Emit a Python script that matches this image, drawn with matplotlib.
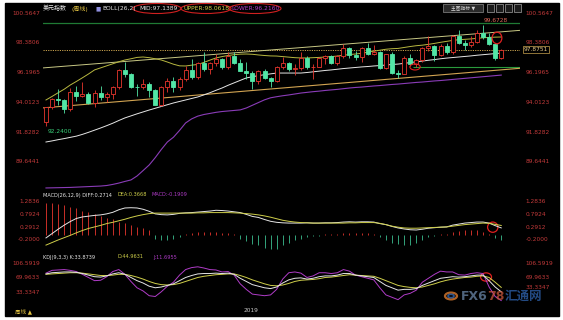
import numpy as np
import matplotlib
matplotlib.use("Agg")
import matplotlib.pyplot as plt
from matplotlib.patches import Rectangle, Ellipse, Circle

plt.rcParams['font.family'] = ['DejaVu Sans', 'Noto Sans CJK SC']

W, H = 563, 320

# weekly US dollar index candles, 2018-05 .. 2019-10
opens = [92.55, 93.64, 94.25, 94.17, 93.54, 94.79, 94.49, 94.60, 94.00, 94.68,
         94.43, 94.66, 95.13, 96.36, 96.11, 95.16, 95.13, 95.40, 94.93, 93.84,
         95.13, 95.61, 95.17, 95.72, 96.37, 95.86, 96.92, 96.47, 96.93, 97.20,
         96.58, 97.46, 96.94, 96.34, 96.18, 95.60, 96.35, 95.82, 95.58, 96.62,
         96.90, 96.50, 96.52, 97.30, 96.61, 96.63, 97.28, 97.39, 96.93, 97.40,
         97.99, 97.52, 97.33, 98.00, 97.60, 97.75, 96.54, 97.56, 96.20, 96.13,
         97.29, 96.81, 97.10, 98.02, 98.15, 97.50, 98.14, 97.69, 98.92, 98.40,
         98.26, 98.48, 99.12, 98.81, 98.30, 97.28]
highs = [93.65, 94.35, 95.03, 94.25, 95.10, 95.25, 95.53, 94.80, 94.90, 95.24,
         94.80, 95.25, 96.47, 96.98, 96.20, 95.40, 95.74, 95.50, 95.00, 95.20,
         95.80, 95.90, 95.90, 96.70, 97.20, 97.00, 97.70, 97.00, 97.54, 97.25,
         97.71, 97.70, 97.20, 96.95, 96.30, 96.40, 96.50, 95.90, 96.70, 97.37,
         97.00, 96.80, 97.71, 97.40, 96.80, 97.35, 97.50, 97.50, 97.50, 98.33,
         98.10, 97.80, 98.05, 98.37, 98.20, 97.80, 97.60, 97.70, 96.40, 97.40,
         97.60, 97.20, 98.10, 98.93, 98.20, 98.30, 98.40, 98.95, 99.37, 98.60,
         98.90, 99.35, 99.6728, 99.10, 98.40, 97.95]
lows = [92.24, 93.50, 93.80, 93.20, 93.40, 94.10, 94.40, 93.90, 93.70, 94.20,
        94.05, 94.25, 95.00, 95.90, 95.05, 94.50, 95.00, 94.40, 93.81, 93.75,
        94.80, 94.80, 94.90, 95.60, 95.70, 95.70, 96.30, 96.10, 96.70, 96.50,
        96.50, 96.80, 96.30, 95.70, 95.03, 95.40, 95.70, 95.16, 95.50, 96.50,
        96.30, 96.05, 96.40, 96.50, 95.74, 96.60, 96.80, 96.80, 96.75, 97.30,
        97.25, 97.10, 97.00, 97.50, 97.50, 96.46, 96.50, 96.10, 95.84, 96.10,
        96.70, 96.60, 96.95, 97.80, 97.05, 97.40, 97.60, 97.60, 98.30, 97.86,
        98.10, 98.40, 98.70, 98.20, 97.11, 97.20]
closes = [93.64, 94.25, 94.17, 93.54, 94.79, 94.49, 94.60, 94.00, 94.68, 94.43,
          94.66, 95.13, 96.36, 96.11, 95.16, 95.13, 95.40, 94.93, 93.84, 95.13,
          95.61, 95.17, 95.72, 96.37, 95.86, 96.92, 96.47, 96.93, 97.20, 96.58,
          97.46, 96.94, 96.34, 96.18, 95.60, 96.35, 95.82, 95.58, 96.62, 96.90,
          96.50, 96.52, 97.30, 96.61, 96.63, 97.28, 97.39, 96.93, 97.40, 97.99,
          97.52, 97.33, 98.00, 97.60, 97.75, 96.54, 97.56, 96.20, 96.13, 97.29,
          96.81, 97.10, 98.02, 98.15, 97.50, 98.14, 97.69, 98.92, 98.40, 98.26,
          98.48, 99.12, 98.81, 98.30, 97.28, 97.8751]

boll_mid = [91.10, 91.18, 91.27, 91.35, 91.44, 91.53, 91.66, 91.81, 91.97, 92.13,
            92.30, 92.48, 92.68, 92.87, 93.02, 93.17, 93.31, 93.45, 93.58, 93.71,
            93.84, 93.97, 94.08, 94.19, 94.30, 94.41, 94.56, 94.72, 94.90, 95.07,
            95.27, 95.45, 95.63, 95.81, 95.90, 95.98, 96.05, 96.11, 96.17, 96.17,
            96.17, 96.17, 96.17, 96.21, 96.26, 96.31, 96.36, 96.40, 96.45, 96.50,
            96.54, 96.58, 96.62, 96.65, 96.69, 96.72, 96.76, 96.80, 96.83, 96.88,
            96.94, 97.00, 97.05, 97.11, 97.16, 97.22, 97.27, 97.31, 97.35, 97.39,
            97.43, 97.48, 97.52, 97.56, 97.60, 97.64]
boll_upper = [94.19, 94.45, 94.72, 94.98, 95.29, 95.55, 95.82, 96.10, 96.40, 96.55,
              96.70, 96.85, 97.00, 97.13, 97.22, 97.32, 97.35, 97.30, 97.22, 97.13,
              96.98, 96.82, 96.70, 96.69, 96.75, 96.80, 96.95, 97.12, 97.28, 97.38,
              97.46, 97.52, 97.56, 97.57, 97.55, 97.50, 97.46, 97.43, 97.42, 97.38,
              97.34, 97.30, 97.28, 97.28, 97.30, 97.32, 97.35, 97.38, 97.42, 97.48,
              97.53, 97.57, 97.62, 97.70, 97.78, 97.85, 97.92, 97.96, 97.98, 98.05,
              98.12, 98.18, 98.22, 98.28, 98.35, 98.43, 98.50, 98.57, 98.62, 98.65,
              98.68, 98.72, 98.76, 98.79, 98.81, 98.82]
boll_lower = [87.72, 87.73, 87.74, 87.75, 87.76, 87.78, 87.80, 87.82, 87.84, 87.86,
              87.90, 87.98, 88.08, 88.20, 88.31, 88.60, 89.00, 89.41, 89.95, 90.55,
              91.10, 91.45, 91.95, 92.50, 92.80, 93.00, 93.12, 93.20, 93.28, 93.34,
              93.38, 93.42, 93.46, 93.60, 93.80, 94.00, 94.20, 94.35, 94.43, 94.50,
              94.56, 94.63, 94.70, 94.75, 94.80, 94.84, 94.89, 94.93, 94.97, 95.02,
              95.07, 95.11, 95.14, 95.18, 95.22, 95.25, 95.29, 95.33, 95.36, 95.40,
              95.44, 95.48, 95.51, 95.55, 95.59, 95.62, 95.66, 95.70, 95.74, 95.78,
              95.82, 95.86, 95.90, 95.94, 95.98, 96.02]

# drawn lines on the price panel
trend_upper = ([-0.7, 78.1], [96.54, 99.31])
trend_lower = ([-0.7, 78.1], [93.60, 96.52])
green_top = 99.85
green_support = (60.5, 96.62)

diff = [-0.12, 0.05, 0.22, 0.38, 0.52, 0.64, 0.70, 0.73, 0.76, 0.78,
        0.82, 0.88, 0.98, 1.05, 1.06, 1.05, 1.00, 0.92, 0.82, 0.79,
        0.78, 0.80, 0.84, 0.86, 0.87, 0.89, 0.91, 0.93, 0.96, 0.95,
        0.93, 0.90, 0.87, 0.80, 0.72, 0.68, 0.60, 0.53, 0.49, 0.47,
        0.46, 0.46, 0.46, 0.47, 0.46, 0.46, 0.47, 0.47, 0.48, 0.50,
        0.51, 0.50, 0.51, 0.51, 0.50, 0.44, 0.40, 0.33, 0.27, 0.23,
        0.20, 0.19, 0.22, 0.26, 0.28, 0.30, 0.31, 0.38, 0.42, 0.46,
        0.48, 0.50, 0.50, 0.46, 0.36, 0.2714]
dea = [-0.40, -0.30, -0.20, -0.11, -0.02, 0.08, 0.17, 0.25, 0.31, 0.37,
       0.44, 0.49, 0.55, 0.61, 0.68, 0.74, 0.79, 0.83, 0.85, 0.85,
       0.85, 0.85, 0.85, 0.85, 0.85, 0.86, 0.86, 0.87, 0.87, 0.87,
       0.87, 0.86, 0.85, 0.83, 0.81, 0.78, 0.74, 0.69, 0.63, 0.57,
       0.53, 0.50, 0.48, 0.47, 0.46, 0.46, 0.46, 0.46, 0.46, 0.46,
       0.47, 0.47, 0.48, 0.48, 0.48, 0.45, 0.40, 0.34, 0.30, 0.27,
       0.26, 0.26, 0.27, 0.28, 0.29, 0.30, 0.31, 0.34, 0.37, 0.40,
       0.42, 0.44, 0.46, 0.45, 0.41, 0.3668]
macd_bar = [1.25, 1.25, 1.20, 1.15, 1.10, 1.05, 0.95, 0.90, 0.80, 0.75,
            0.65, 0.60, 0.50, 0.45, 0.40, 0.30, 0.25, 0.18, -0.15, -0.20,
            -0.20, -0.15, -0.10, 0.03, 0.06, 0.10, 0.12, 0.10, 0.12, 0.08,
            0.06, 0.04, -0.15, -0.25, -0.35, -0.40, -0.50, -0.55, -0.55, -0.40,
            -0.30, -0.20, -0.15, -0.10, -0.05, -0.03, 0.03, 0.02, 0.04, 0.06,
            0.08, 0.06, 0.07, 0.06, 0.04, -0.10, -0.20, -0.30, -0.35, -0.40,
            -0.38, -0.30, -0.20, -0.10, -0.05, 0.02, 0.05, 0.10, 0.15, 0.18,
            0.20, 0.18, 0.12, 0.02, -0.12, -0.1909]

k_line = [79, 82, 83, 84, 84, 83, 80, 76, 72, 71,
          74, 79, 82, 78, 70, 62, 56, 48, 44, 46,
          50, 54, 62, 70, 75, 79, 80, 80, 81, 80,
          81, 78, 68, 60, 52, 48, 44, 42, 46, 56,
          64, 68, 69, 66, 68, 72, 74, 74, 76, 80,
          80, 76, 74, 72, 70, 60, 50, 44, 38, 40,
          40, 42, 50, 56, 62, 68, 70, 72, 71, 72,
          74, 76, 76, 62, 46, 33.8739]
d_line = [78, 79, 80, 81, 82, 82, 81, 79, 77, 75,
          75, 76, 78, 78, 75, 71, 66, 60, 55, 52,
          51, 52, 55, 60, 65, 70, 73, 75, 77, 78,
          79, 79, 75, 70, 64, 59, 54, 50, 49, 51,
          55, 60, 63, 64, 65, 67, 70, 71, 73, 75,
          77, 76, 75, 74, 73, 68, 62, 56, 50, 47,
          45, 44, 46, 50, 54, 59, 63, 66, 68, 70,
          71, 73, 74, 70, 58, 44.9631]
j_line = [81, 88, 89, 90, 88, 85, 78, 70, 62, 63,
          72, 85, 90, 78, 60, 44, 36, 24, 22, 34,
          48, 58, 76, 90, 95, 97, 94, 90, 89, 84,
          85, 76, 54, 40, 28, 26, 24, 26, 40, 66,
          82, 84, 81, 70, 74, 82, 82, 80, 82, 90,
          86, 76, 72, 68, 64, 44, 26, 20, 14, 26,
          30, 38, 58, 68, 78, 86, 84, 84, 77, 76,
          80, 82, 80, 46, 22, 11.6955]

price_ticks = [100.5647, 98.3806, 96.1965, 94.0123, 91.8282, 89.6441]
macd_ticks = [1.2836, 0.7924, 0.2912, -0.2000]
kdj_ticks = [106.5919, 69.9633, 33.3347]

RED = '#e8362e'
GREEN = '#52e6a6'
LBL = '#c23a3a'
YEL = '#cfcf4a'
MAG = '#b03cc8'
WHITE = '#e6e6e6'


def fx(px):
    return px / W


def fy(py):
    return 1 - py / H


fig = plt.figure(figsize=(W / 100, H / 100), dpi=100, facecolor='white')
fig.patches.append(Rectangle((fx(5), fy(316)), fx(559) - fx(5), (316 - 3) / H,
                             transform=fig.transFigure, color='black', zorder=-10))


def panel(top, bottom, ylim):
    ax = fig.add_axes([fx(43), fy(bottom), fx(520) - fx(43), (bottom - top) / H])
    ax.set_xlim(-0.49, 78.09)
    ax.set_ylim(*ylim)
    ax.axis('off')
    return ax


def tick_labels(ax, ticks):
    for t in ticks:
        s = '%.4f' % t
        ax.text(-0.006, t, s, transform=ax.get_yaxis_transform(), ha='right',
                va='center', color=LBL, fontsize=4.2)
        ax.text(1.012, t, s, transform=ax.get_yaxis_transform(), ha='left',
                va='center', color=LBL, fontsize=4.2)


x = np.arange(len(closes))

# ---- price panel ----
ax = panel(6, 190, (87.57, 101.10))
ax.axhline(green_top, color='#1f7a34', lw=0.9)
ax.hlines(green_support[1], green_support[0], 78.09, color='#2a9a3c', lw=0.8)
ax.axhline(closes[-1], color='#c9a34e', lw=0.7, ls=(0, (1.2, 1.2)))
ax.plot(trend_upper[0], trend_upper[1], color='#c8c884', lw=0.7)
ax.plot(trend_lower[0], trend_lower[1], color='#d2a452', lw=0.8)
ax.plot(x, boll_upper, color='#b8b840', lw=0.7)
ax.plot(x, boll_mid, color=WHITE, lw=0.7)
ax.plot(x, boll_lower, color='#8a3cb8', lw=0.8)

for i in range(len(closes)):
    o, h, l, c = opens[i], highs[i], lows[i], closes[i]
    up = c >= o
    col = RED if up else GREEN
    ax.vlines(i, l, h, color=col, lw=0.6, zorder=3)
    ax.add_patch(Rectangle((i - 0.33, min(o, c)), 0.66, max(abs(c - o), 0.03),
                           facecolor='black' if up else col, edgecolor=col,
                           lw=0.6, zorder=4))

tick_labels(ax, price_ticks)
ax.text(1.008, closes[-1], '%.4f' % closes[-1], transform=ax.get_yaxis_transform(),
        ha='left', va='center', color='#e6c888', fontsize=4.2,
        bbox=dict(fc='black', ec='#c9a34e', lw=0.5, pad=0.8), zorder=6)

hi = int(np.argmax(highs))
ax.annotate('%.4f' % highs[hi], xy=(hi, highs[hi]), xytext=(0.5, 1.5),
            textcoords='offset points', ha='left', va='bottom',
            color='#e06a5a', fontsize=4.2)
lo = int(np.argmin(lows))
ax.annotate('%.4f' % lows[lo], xy=(lo, lows[lo]), xytext=(1, -1.5),
            textcoords='offset points', ha='left', va='top',
            color='#3ad07a', fontsize=4.2)

ax.add_patch(Ellipse((74.3, 98.75), 1.6, 0.85, fill=False, ec='#e02020', lw=0.9, zorder=7))
ax.add_patch(Ellipse((60.8, 96.62), 1.7, 0.45, fill=False, ec='#e02020', lw=0.8, zorder=7))

# ---- MACD panel ----
axm = panel(190, 250, (-0.5914, 1.7523))
axm.vlines(x, 0, macd_bar, colors=[RED if v > 0 else '#3cbf90' for v in macd_bar], lw=0.6)
axm.plot(x, diff, color=WHITE, lw=0.7)
axm.plot(x, dea, color=YEL, lw=0.7)
axm.add_patch(Ellipse((73.6, 0.30), 1.7, 0.40, fill=False, ec='#e02020', lw=0.9))
tick_labels(axm, macd_ticks)

# ---- KDJ panel ----
axk = panel(250, 306, (-2.0, 139.43))
axk.plot(x, j_line, color=MAG, lw=0.7)
axk.plot(x, d_line, color=YEL, lw=0.7)
axk.plot(x, k_line, color=WHITE, lw=0.7)
axk.add_patch(Ellipse((72.5, 71.2), 1.8, 21, fill=False, ec='#e02020', lw=0.9))
tick_labels(axk, kdj_ticks[:2])
axk.text(-0.006, kdj_ticks[2], '%.4f' % kdj_ticks[2], transform=axk.get_yaxis_transform(),
         ha='right', va='center', color=LBL, fontsize=4.2)
axk.text(1.012, kdj_ticks[2] + 6, '%.4f' % kdj_ticks[2], transform=axk.get_yaxis_transform(),
         ha='left', va='bottom', color=LBL, fontsize=4.2, zorder=1)


# ---- header texts ----
def seg(px, py, s, col, size=4.3):
    fig.text(fx(px), fy(py), s, color=col, fontsize=size, ha='left', va='center')


seg(43, 8.5, '美元指数', WHITE)
seg(72, 8.5, '(周线)', '#e0c040')
seg(96, 8.5, '\u25a0', '#9090e0', 4.0)
seg(102, 8.5, 'BOLL(26,2)', WHITE)
seg(139, 8.5, 'MID:97.1389', WHITE)
seg(184, 8.5, 'UPPER:98.0618', YEL)
seg(231, 8.5, 'LOWER:96.2160', MAG)
for cx, w in [(157, 48), (206, 50), (255, 52)]:
    fig.patches.append(Ellipse((fx(cx), fy(8.5)), w / W, 10 / H, fill=False,
                               ec='#d02020', lw=0.8, transform=fig.transFigure))

seg(43, 195, 'MACD(26,12,9) DIFF:0.2714', WHITE, 3.6)
seg(118, 195, 'DEA:0.3668', YEL, 3.6)
seg(151, 195, 'MACD:-0.1909', MAG, 3.6)

seg(43, 257, 'KDJ(9,3,3) K:33.8739', WHITE, 3.6)
seg(118, 257, 'D:44.9631', YEL, 3.6)
seg(153, 257, 'J:11.6955', MAG, 3.6)

# toolbar (top right)
fig.patches.append(Rectangle((fx(443), fy(12)), 40 / W, 8 / H, fc='#2a2a2a',
                             ec='#8a8a8a', lw=0.5, transform=fig.transFigure))
fig.text(fx(463), fy(8), '主图指标 ▼', color='#d8d8d8', fontsize=3.4,
         ha='center', va='center')
for bx in [487, 496, 505, 514]:
    fig.patches.append(Rectangle((fx(bx), fy(12)), 7 / W, 8 / H, fc='#1a1a1a',
                                 ec='#a0a0a0', lw=0.5, transform=fig.transFigure))

# bottom line
fig.text(fx(15), fy(311), '周线 ▲', color='#e0c040', fontsize=4.0, ha='left', va='center')
fig.text(fx(244), fy(311), '2019', color='#c8c8c8', fontsize=4.2, ha='left', va='center')

# watermark
fig.patches.append(Circle((fx(451), fy(296)), 6 / W, fill=False, ec='#d87a30',
                          lw=1.6, alpha=0.8, transform=fig.transFigure))
fig.patches.append(Circle((fx(451), fy(296)), 3 / W, fill=False, ec='#3a6ab0',
                          lw=1.2, alpha=0.8, transform=fig.transFigure))
fig.text(fx(461), fy(296), 'FX6', color='#6a86a8', fontsize=9, fontweight='bold',
         ha='left', va='center', alpha=0.75)
fig.text(fx(487), fy(296), '78', color='#c8553a', fontsize=9, fontweight='bold',
         ha='left', va='center', alpha=0.75)
fig.text(fx(505), fy(296), '汇通网', color='#2f64b0', fontsize=9, fontweight='bold',
         ha='left', va='center', alpha=0.75)

fig.savefig('out.png', dpi=100, facecolor=fig.get_facecolor())
